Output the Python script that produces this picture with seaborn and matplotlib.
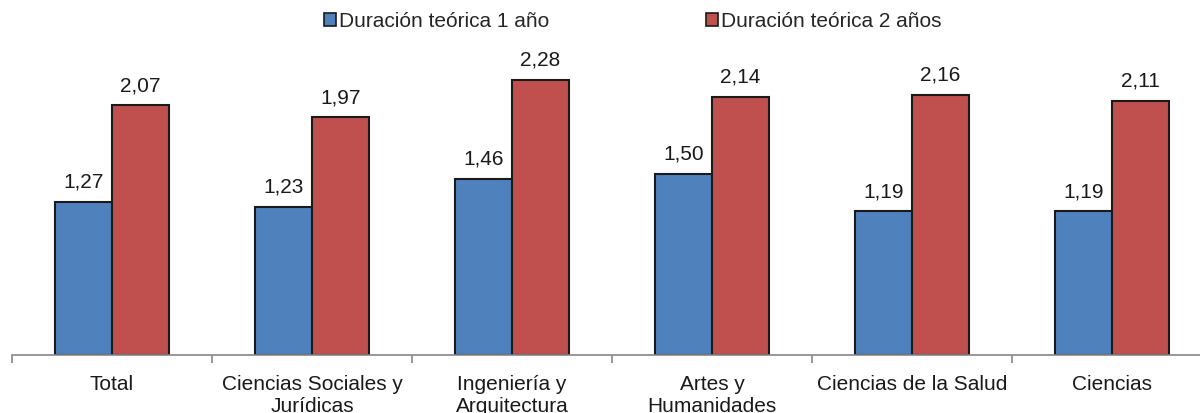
import matplotlib
matplotlib.use("Agg")
import matplotlib.pyplot as plt
import seaborn as sns
import pandas as pd
from matplotlib.patches import Patch

categories = ["Total", "Ciencias Sociales y\nJurídicas", "Ingeniería y\nArquitectura",
              "Artes y\nHumanidades", "Ciencias de la Salud", "Ciencias"]
series_names = ["Duración teórica 1 año", "Duración teórica 2 años"]
vals_1 = [1.27, 1.23, 1.46, 1.50, 1.19, 1.19]
vals_2 = [2.07, 1.97, 2.28, 2.14, 2.16, 2.11]
colors = ["#4F81BD", "#C0504D"]

df = pd.DataFrame({
    "cat": categories * 2,
    "serie": [series_names[0]] * 6 + [series_names[1]] * 6,
    "val": vals_1 + vals_2,
})

sns.set_style("white")
plt.rcParams["font.family"] = ["Liberation Sans", "DejaVu Sans"]

fig = plt.figure(figsize=(12, 4.14), dpi=100)
ax = fig.add_axes([12 / 1200, 58 / 414, 1200 / 1200, (356 - 54.5) / 414])

sns.barplot(data=df, x="cat", y="val", hue="serie", order=categories,
            hue_order=series_names, palette=colors, saturation=1, width=0.57, gap=0,
            edgecolor="#1a1a1a", linewidth=1.5, ax=ax, legend=False, errorbar=None)

for cont in ax.containers:
    ax.bar_label(cont, labels=[f"{v:.2f}".replace(".", ",") for v in cont.datavalues],
                 padding=8, fontsize=15, color="#1a1a1a")

ax.set_xlim(-0.5, 5.5)
ax.set_ylim(0, 2.5)
ax.set_xlabel("")
ax.set_ylabel("")
ax.set_yticks([])
for s in ["top", "right", "left"]:
    ax.spines[s].set_visible(False)
ax.spines["bottom"].set_color("#888888")
ax.spines["bottom"].set_linewidth(1.2)
ax.set_xticks(range(6))
ax.set_xticklabels(categories, fontsize=15, color="#1a1a1a", linespacing=1.2)
ax.tick_params(axis="x", which="major", length=0, pad=14)
ax.set_xticks([i + 0.5 for i in range(-1, 6)], minor=True)
ax.tick_params(axis="x", which="minor", bottom=True, length=6, width=1.2,
               color="#888888", direction="out")

handles = [Patch(facecolor=c, edgecolor="#1a1a1a", linewidth=1.2) for c in colors]
fig.legend(handles, series_names, loc="center", bbox_to_anchor=(0.5275, 0.947), ncol=2,
           frameon=False, fontsize=15, handlelength=0.58, handleheight=0.58,
           handletextpad=0.15, columnspacing=7.5)

fig.savefig("out.png", dpi=100)
